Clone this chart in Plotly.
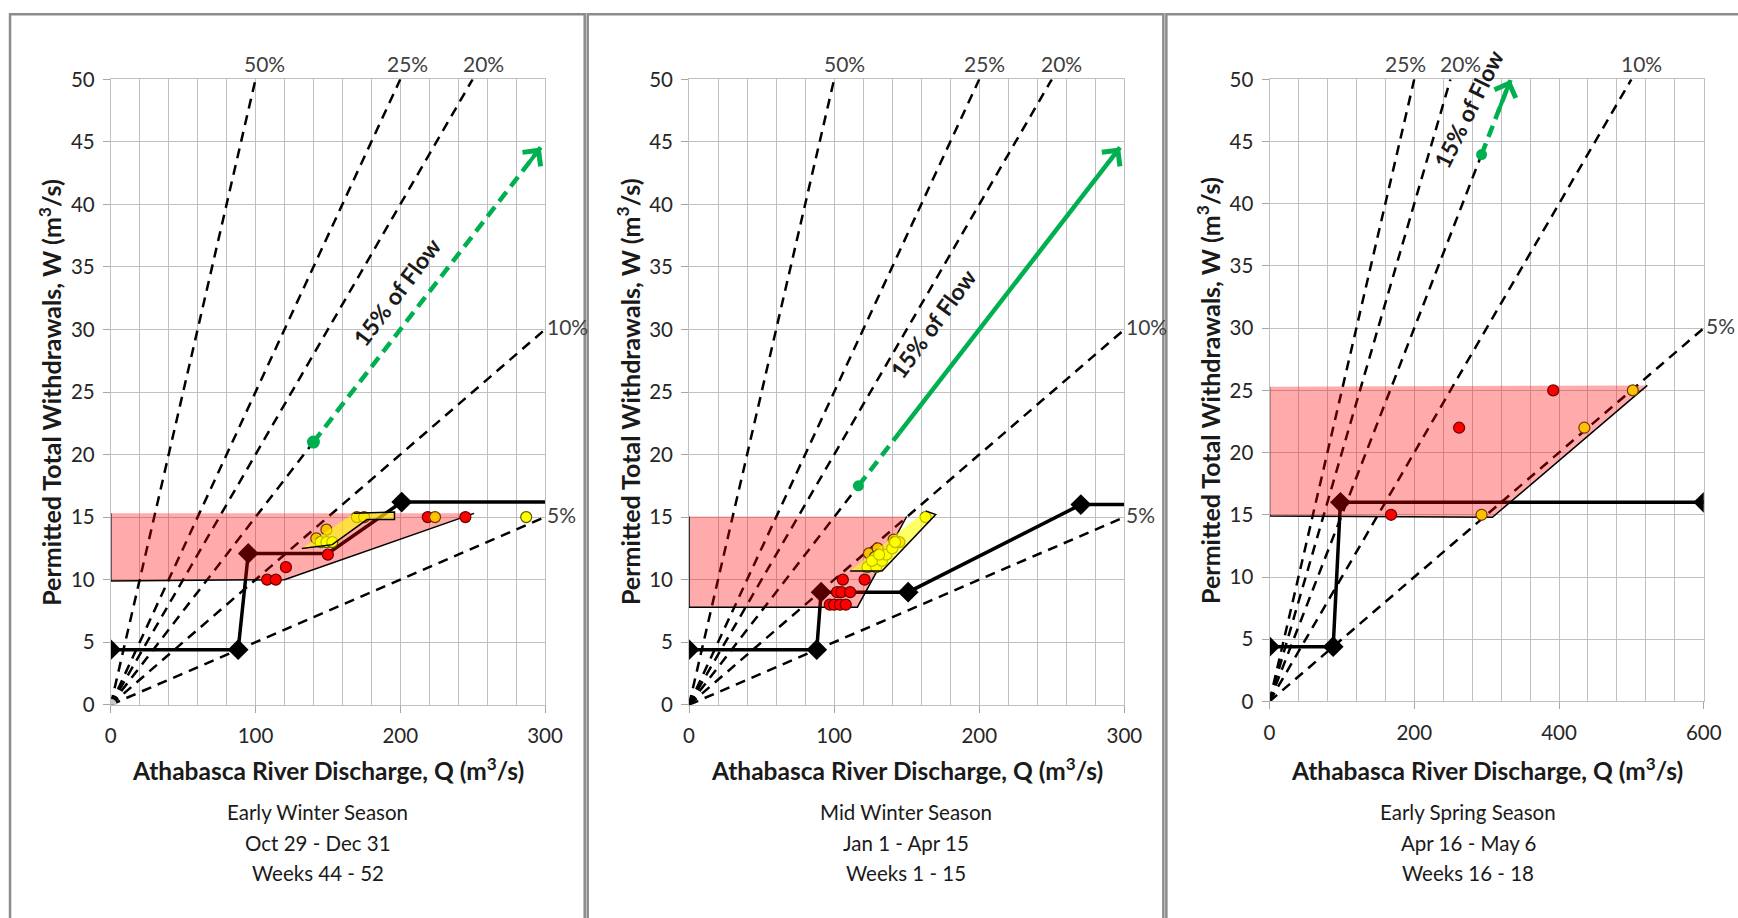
import plotly.graph_objects as go

# ------------------------------------------------------------------ data
X_MAX = [300, 300, 600]
Y_MAX = 50
X_MAJOR = [100, 100, 200]
X_MINOR = [20, 20, 40]

# percentage-of-flow reference lines (W = p * Q)
pct_1 = [0.50, 0.25, 0.20, 0.10, 0.05]
pct_2 = [0.50, 0.25, 0.20, 0.10, 0.05]
pct_3 = [0.25, 0.20, 0.10, 0.05]
pct_lab_1 = ["50%", "25%", "20%", "10%", "5%"]
pct_lab_2 = ["50%", "25%", "20%", "10%", "5%"]
pct_lab_3 = ["25%", "20%", "10%", "5%"]

# 15 % of flow line / green arrow
FLOW15 = 0.15
flow15_dot_Q = [140, 116.7, 293]
flow15_solid_Q = [None, 145, None]
flow15_tip_Q = [297, 297, 333]
flow15_text = "15% of Flow"

# step cut-off lines (black)
step1_Q = [0, 88, 95, 150, 201, 300]
step1_W = [4.4, 4.4, 12.1, 12.1, 16.2, 16.2]
diam1_Q = [0, 88, 95, 201]
diam1_W = [4.4, 4.4, 12.1, 16.2]

step2_Q = [0, 88, 91, 151, 270, 300]
step2_W = [4.4, 4.4, 9.0, 9.0, 16.0, 16.0]
diam2_Q = [0, 88, 91, 151, 270]
diam2_W = [4.4, 4.4, 9.0, 9.0, 16.0]

step3_Q = [0, 88, 98, 600]
step3_W = [4.4, 4.4, 16.0, 16.0]
diam3_Q = [0, 88, 98, 600]
diam3_W = [4.4, 4.4, 16.0, 16.0]

# pink envelopes
pink1_Q = [0, 0, 120, 251]
pink1_W = [15.3, 9.9, 10.0, 15.3]
pink2_Q = [0, 0, 116, 150]
pink2_W = [15.05, 7.8, 7.8, 15.05]
pink3_Q = [0, 0, 308, 522]
pink3_W = [25.3, 14.9, 14.8, 25.4]

# yellow envelopes
yel1_Q = [132, 153, 177, 196, 196, 168]
yel1_W = [12.5, 12.8, 14.8, 14.8, 15.4, 15.3]
yel2_Q = [111, 133, 170, 163]
yel2_W = [10.7, 10.7, 15.2, 15.5]

# observed points
red1_Q = [108, 114, 121, 150, 219, 245]
red1_W = [10.0, 10.0, 11.0, 12.0, 15.0, 15.0]
org1_Q = [142, 149, 170, 175, 224]
org1_W = [13.3, 14.0, 15.0, 15.0, 15.0]
ylw1_Q = [145, 149, 153, 287]
ylw1_W = [13.0, 13.0, 13.0, 15.0]

red2_Q = [97, 100, 104, 108, 102, 105, 111, 106, 121]
red2_W = [8.0, 8.0, 8.0, 8.0, 9.0, 9.0, 9.0, 10.0, 10.0]
org2_Q = [124, 130, 128, 141, 145]
org2_W = [12.1, 12.5, 11.8, 13.2, 13.0]
ylw2_Q = [123, 129, 133, 136, 140, 142, 126, 131, 163]
ylw2_W = [11.0, 11.0, 11.5, 12.0, 12.5, 13.0, 11.5, 12.0, 15.0]

red3_Q = [168, 262, 392]
red3_W = [15.0, 22.0, 25.0]
org3_Q = [293, 435, 502]
org3_W = [15.0, 22.0, 25.0]

seasons = [
    ["Early Winter Season", "Oct 29 - Dec 31", "Weeks 44 - 52"],
    ["Mid Winter Season", "Jan 1 - Apr 15", "Weeks 1 - 15"],
    ["Early Spring Season", "Apr 16 - May 6", "Weeks 16 - 18"],
]
X_TITLE = "Athabasca River Discharge, Q (m<sup>3</sup>/s)"
Y_TITLE = "Permitted Total Withdrawals, W (m<sup>3</sup>/s)"

# ------------------------------------------------------------------ layout geometry
FIG_W, FIG_H = 1738, 918
# photographed picture vs page: picture = A + S * page  -> place items at page = (target - A) / S
SX, AX = 0.98676, 5.97
SY, AY = 0.9721, 13.3


def px(t):
    return ((t - AX) / SX) / FIG_W


def py(t):
    return (FIG_H - (t - AY) / SY) / FIG_H


# target picture pixels: (x at Q=0, x at Q=max, y at W=0, y at W=50)
PLOTS = [(110.8, 545.3, 703.8, 79.5), (689.4, 1125.0, 703.8, 79.5), (1270.2, 1704.7, 700.5, 79.5)]
SEASON_CX = [318, 906, 1469]
FRAMES = [(10, 585), (588, 1164), (1167, 1780)]
LABEL_SHIFT = [[9, 7, 11, 0, 0], [10, 5, 10, 0, 0], [-9, 10, 10, 0]]

FONT = "Lato, 'Open Sans', sans-serif"
GREEN = "#00B050"
DASH = "10px,7px"

panels = [
    dict(pct=pct_1, lab=pct_lab_1, sq=step1_Q, sw=step1_W, dq=diam1_Q, dw=diam1_W,
         pq=pink1_Q, pw=pink1_W, yq=yel1_Q, yw=yel1_W,
         rq=red1_Q, rw=red1_W, oq=org1_Q, ow=org1_W, lq=ylw1_Q, lw=ylw1_W),
    dict(pct=pct_2, lab=pct_lab_2, sq=step2_Q, sw=step2_W, dq=diam2_Q, dw=diam2_W,
         pq=pink2_Q, pw=pink2_W, yq=yel2_Q, yw=yel2_W,
         rq=red2_Q, rw=red2_W, oq=org2_Q, ow=org2_W, lq=ylw2_Q, lw=ylw2_W),
    dict(pct=pct_3, lab=pct_lab_3, sq=step3_Q, sw=step3_W, dq=diam3_Q, dw=diam3_W,
         pq=pink3_Q, pw=pink3_W, yq=None, yw=None,
         rq=red3_Q, rw=red3_W, oq=org3_Q, ow=org3_W, lq=[], lw=[]),
]

fig = go.Figure()
annotations = []
shapes = []
text_angles = [-53, -54, -64]
text_pos = [[197.5, 33.0], [168.4, 30.5], [275, 47.6]]

for i, p in enumerate(panels):
    xa = "x" if i == 0 else f"x{i+1}"
    ya = "y" if i == 0 else f"y{i+1}"
    xmax = X_MAX[i]

    # reference dashed lines
    for k, (frac, lab) in enumerate(zip(p["pct"], p["lab"])):
        qe = min(xmax, Y_MAX / frac)
        we = frac * qe
        fig.add_trace(go.Scatter(x=[0, qe], y=[0, we], mode="lines", xaxis=xa, yaxis=ya,
                                 line=dict(color="black", width=2.5, dash=DASH),
                                 hoverinfo="skip", showlegend=False))
        if we >= Y_MAX - 1e-6:
            annotations.append(dict(x=qe, y=Y_MAX, xref=xa, yref=ya, text=lab, showarrow=False,
                                    xanchor="center", yanchor="bottom", xshift=LABEL_SHIFT[i][k], yshift=1,
                                    font=dict(family=FONT, size=21, color="#404040")))
        else:
            annotations.append(dict(x=qe, y=we, xref=xa, yref=ya, text=lab, showarrow=False,
                                    xanchor="left", yanchor="middle", xshift=0, yshift=3,
                                    font=dict(family=FONT, size=21, color="#404040")))
    # 15% black dashed line to green dot
    q0 = flow15_dot_Q[i]
    fig.add_trace(go.Scatter(x=[0, q0], y=[0, FLOW15 * q0], mode="lines", xaxis=xa, yaxis=ya,
                             line=dict(color="black", width=2.5, dash=DASH),
                             hoverinfo="skip", showlegend=False))

    # black step line
    fig.add_trace(go.Scatter(x=p["sq"], y=p["sw"], mode="lines", xaxis=xa, yaxis=ya,
                             line=dict(color="black", width=3.5), hoverinfo="skip", showlegend=False))
    fig.add_trace(go.Scatter(x=p["dq"], y=p["dw"], mode="markers", xaxis=xa, yaxis=ya,
                             marker=dict(symbol="diamond", size=16, color="black"),
                             hoverinfo="skip", showlegend=False))

    # pink envelope
    fig.add_trace(go.Scatter(x=p["pq"], y=p["pw"], mode="lines", fill="toself", xaxis=xa, yaxis=ya,
                             fillcolor="rgba(255,0,0,0.33)", line=dict(color="black", width=1.5),
                             hoverinfo="skip", showlegend=False))

    # points
    fig.add_trace(go.Scatter(x=p["rq"], y=p["rw"], mode="markers", xaxis=xa, yaxis=ya,
                             marker=dict(size=11, color="#FF0000", line=dict(color="#6b0000", width=1.2)),
                             hoverinfo="skip", showlegend=False))
    fig.add_trace(go.Scatter(x=p["oq"], y=p["ow"], mode="markers", xaxis=xa, yaxis=ya,
                             marker=dict(size=11, color="#FFC000", line=dict(color="#6b3a00", width=1.2)),
                             hoverinfo="skip", showlegend=False))
    fig.add_trace(go.Scatter(x=p["lq"], y=p["lw"], mode="markers", xaxis=xa, yaxis=ya,
                             marker=dict(size=11, color="#FFFF00", line=dict(color="#5a5a00", width=1.2)),
                             hoverinfo="skip", showlegend=False))

    # yellow envelope on top
    if p["yq"] is not None:
        fig.add_trace(go.Scatter(x=p["yq"], y=p["yw"], mode="lines", fill="toself", xaxis=xa, yaxis=ya,
                                 fillcolor="rgba(255,255,0,0.6)", line=dict(color="black", width=1.5),
                                 hoverinfo="skip", showlegend=False))

    # green 15% arrow
    tip = flow15_tip_Q[i]
    solid = flow15_solid_Q[i]
    dash_end = solid if solid is not None else tip
    fig.add_trace(go.Scatter(x=[q0, dash_end], y=[FLOW15 * q0, FLOW15 * dash_end], mode="lines",
                             xaxis=xa, yaxis=ya, line=dict(color=GREEN, width=4.5, dash="12px,7px"),
                             hoverinfo="skip", showlegend=False))
    if solid is not None:
        fig.add_trace(go.Scatter(x=[solid, tip], y=[FLOW15 * solid, FLOW15 * tip], mode="lines",
                                 xaxis=xa, yaxis=ya, line=dict(color=GREEN, width=4.5),
                                 hoverinfo="skip", showlegend=False))
    fig.add_trace(go.Scatter(x=[q0], y=[FLOW15 * q0], mode="markers", xaxis=xa, yaxis=ya,
                             marker=dict(size=13 if i == 0 else 11, color=GREEN),
                             hoverinfo="skip", showlegend=False))
    back = tip - 0.03 * xmax
    annotations.append(dict(x=tip, y=FLOW15 * tip, ax=back, ay=FLOW15 * back, xref=xa, yref=ya,
                            axref=xa, ayref=ya, showarrow=True, arrowhead=4, arrowsize=1.1,
                            arrowwidth=4, arrowcolor=GREEN, text=""))
    annotations.append(dict(x=text_pos[i][0], y=text_pos[i][1], xref=xa, yref=ya,
                            text=f"<b>{flow15_text}</b>", showarrow=False, textangle=text_angles[i],
                            font=dict(family=FONT, size=23, color="#1a1a1a")))

    # axes
    x0, x1, yb, yt = PLOTS[i]
    fig.update_layout(**{
        ("xaxis" if i == 0 else f"xaxis{i+1}"): dict(
            domain=[px(x0), px(x1)], range=[0, xmax], anchor=ya,
            tickmode="linear", tick0=0, dtick=X_MAJOR[i], showgrid=True, gridcolor="#c0c0c0",
            gridwidth=1, zeroline=False, showline=True, linecolor="#c0c0c0", mirror=True,
            ticks="outside", ticklen=7, tickcolor="#a6a6a6", ticklabelstandoff=6,
            tickfont=dict(family=FONT, size=20.5, color="#262626"),
            minor=dict(dtick=X_MINOR[i], showgrid=True, gridcolor="#c0c0c0", gridwidth=1, ticks=""),
        ),
        ("yaxis" if i == 0 else f"yaxis{i+1}"): dict(
            domain=[py(yb), py(yt)], range=[0, Y_MAX], anchor=xa,
            tickmode="linear", tick0=0, dtick=5, showgrid=True, gridcolor="#c0c0c0",
            gridwidth=1, zeroline=False, showline=True, linecolor="#c0c0c0", mirror=True,
            ticks="outside", ticklen=7, tickcolor="#a6a6a6", ticklabelstandoff=4,
            tickfont=dict(family=FONT, size=20.5, color="#262626"),
        ),
    })

    # titles
    annotations.append(dict(x=px((x0 + x1) / 2), y=py(768), xref="paper", yref="paper",
                            text=f"<b>{X_TITLE}</b>", showarrow=False, xanchor="center", yanchor="middle",
                            font=dict(family=FONT, size=24.5, color="#1a1a1a")))
    annotations.append(dict(x=px(x0 - 61), y=py((yb + yt) / 2), xref="paper", yref="paper",
                            text=f"<b>{Y_TITLE}</b>", showarrow=False, textangle=-90,
                            xanchor="center", yanchor="middle",
                            font=dict(family=FONT, size=25, color="#1a1a1a")))
    for line, ypos in zip(seasons[i], [811, 842, 872]):
        annotations.append(dict(x=px(SEASON_CX[i]), y=py(ypos), xref="paper", yref="paper",
                                text=line, showarrow=False, xanchor="center", yanchor="middle",
                                font=dict(family=FONT, size=20.5, color="#1a1a1a")))
    fx0, fx1 = FRAMES[i]
    shapes.append(dict(type="rect", xref="paper", yref="paper", x0=px(fx0), x1=px(fx1),
                       y0=-0.05, y1=0.9985, line=dict(color="#8c8c8c", width=2.5)))

# origin marker in panel 1
fig.add_trace(go.Scatter(x=[0], y=[0], mode="markers", xaxis="x", yaxis="y",
                         marker=dict(size=12, color="#c8c8c8"), hoverinfo="skip", showlegend=False))

fig.update_layout(width=FIG_W, height=FIG_H, margin=dict(l=0, r=0, t=0, b=0),
                  paper_bgcolor="white", plot_bgcolor="white", showlegend=False,
                  annotations=annotations, shapes=shapes)

fig.write_html("out.html", config={"displayModeBar": False},
               post_script="document.body.style.margin='0';")
